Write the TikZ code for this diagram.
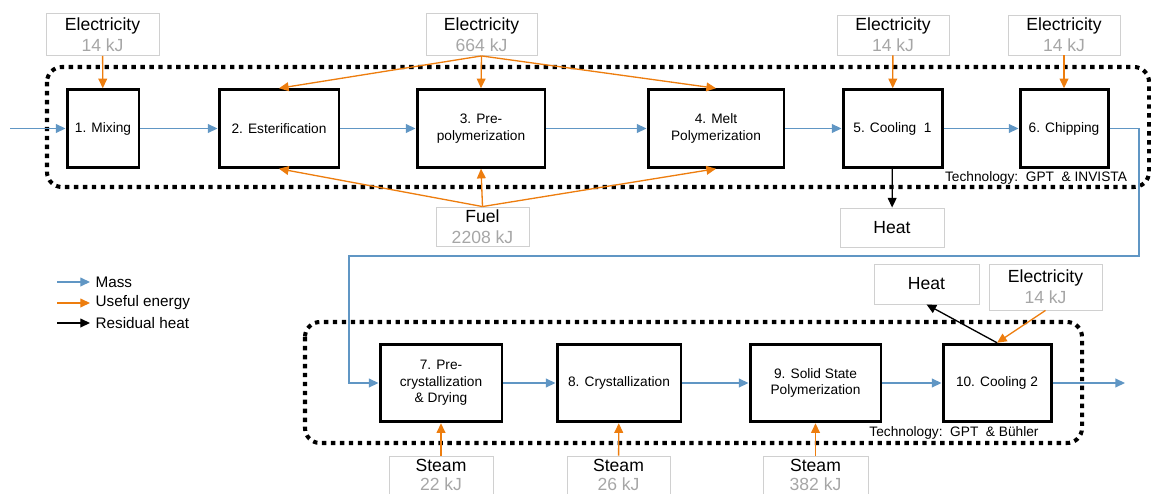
\documentclass[tikz,border=0pt]{standalone}
\usepackage{fontspec}
\setmainfont{Liberation Sans}
\usetikzlibrary{arrows.meta}
\definecolor{massblue}{RGB}{96,150,196}
\definecolor{energyorange}{RGB}{237,125,14}
\definecolor{kjgray}{RGB}{166,166,166}
\definecolor{framegray}{RGB}{208,208,208}
\newcommand{\supplytext}[2]{#1\\\textcolor{kjgray}{#2}}
\begin{document}
\begin{tikzpicture}[x=0.02cm, y=-0.02cm,
    proc/.style={draw, line width=1.7pt, minimum height=1.55cm, align=center,
      inner sep=1pt, font=\fontsize{7.8}{9.4}\selectfont},
    supply/.style={draw=framegray, line width=0.5pt, minimum height=0.84cm,
      align=center, inner sep=1pt, font=\fontsize{10}{12}\selectfont},
    zone/.style={line width=2.3pt, dash pattern=on 2.5pt off 2.6pt,
      rounded corners=0.3cm},
    mass/.style={draw=massblue, line width=0.75pt, -{Triangle[length=5.5pt,width=5pt]}},
    useful/.style={draw=energyorange, line width=0.75pt, -{Triangle[length=5.5pt,width=5pt]}},
    residual/.style={draw=black, line width=0.75pt, -{Triangle[length=5.5pt,width=5pt]}},
    techlabel/.style={inner sep=0pt, font=\fontsize{7.8}{9.4}\selectfont},
    legendlabel/.style={anchor=west, inner sep=3pt, font=\fontsize{8.7}{10}\selectfont}]
  \useasboundingbox (0,0) rectangle (1151,493);
  % technology zones
  \draw[zone] (47,67) rectangle (1149,187);
  \draw[zone] (305,322) rectangle (1082,443);
  \node[techlabel] (techTop) at (1036,178) {Technology:\ \ GPT \ \& INVISTA};
  \node[techlabel] (techBottom) at (954,433) {Technology:\ \ GPT \ \& Bühler};
  % process steps
  \draw
    (103,128.5) node[proc, minimum width=1.44cm] (b1){1. Mixing}
    (279,128.5) node[proc, minimum width=2.4cm] (b2){2. Esterification}
    (481,128.5) node[proc, minimum width=2.56cm] (b3){3. Pre-\\polymerization}
    (716,128.5) node[proc, minimum width=2.72cm] (b4){4. Melt\\Polymerization}
    (892.5,128.5) node[proc, minimum width=1.98cm] (b5){5. Cooling\ \ 1}
    (1064,128.5) node[proc, minimum width=1.76cm] (b6){6. Chipping}
    (441,383) node[proc, minimum width=2.44cm] (b7){7. Pre-\\crystallization\\\& Drying}
    (619,383) node[proc, minimum width=2.48cm] (b8){8. Crystallization}
    (815.5,383) node[proc, minimum width=2.62cm] (b9){9. Solid\ State\\Polymerization}
    (997,383) node[proc, minimum width=2.16cm] (b10){10. Cooling\ 2};
  % energy supplies and heat sinks
  \draw
    (102.5,34.5) node[supply, minimum width=2.26cm] (e1){\supplytext{Electricity}{14 kJ}}
    (481.5,34.5) node[supply, minimum width=2.22cm] (e2){\supplytext{Electricity}{664 kJ}}
    (893,35) node[supply, minimum width=2.24cm, minimum height=0.8cm] (e5){\supplytext{Electricity}{14 kJ}}
    (1064,35) node[supply, minimum width=2.24cm, minimum height=0.8cm] (e6){\supplytext{Electricity}{14 kJ}}
    (482.5,226.5) node[supply, minimum width=1.86cm, minimum height=0.78cm] (fuel){\supplytext{Fuel}{2208 kJ}}
    (892,227.5) node[supply, minimum width=2.08cm, minimum height=0.78cm] (heatA){Heat}
    (926.5,284) node[supply, minimum width=2.1cm, minimum height=0.8cm] (heatB){Heat}
    (1045.5,287) node[supply, minimum width=2.26cm, minimum height=0.92cm] (e10){\supplytext{Electricity}{14 kJ}}
    (441,475) node[supply, minimum width=2.08cm, minimum height=0.76cm, font=\fontsize{10}{11}\selectfont] (s7){\supplytext{Steam}{22 kJ}}
    (618.5,475) node[supply, minimum width=2.06cm, minimum height=0.76cm, font=\fontsize{10}{11}\selectfont] (s8){\supplytext{Steam}{26 kJ}}
    (815.5,475) node[supply, minimum width=2.1cm, minimum height=0.76cm, font=\fontsize{10}{11}\selectfont] (s9){\supplytext{Steam}{382 kJ}};
  % free ends of the mass flow
  \coordinate (feedIn) at (10,128.5);
  \coordinate (feedOut) at (1125,383);
  \coordinate (turnA) at (1139,256);
  \coordinate (turnB) at (349,256);
  \begin{scope}[mass]
    \draw (feedIn) to (b1.west);
    \draw (b1) to (b2);
    \draw (b2) to (b3);
    \draw (b3) to (b4);
    \draw (b4) to (b5);
    \draw (b5) to (b6);
    \draw (b6.east) -| (turnA) -- (turnB) |- (b7.west);
    \draw (b7) to (b8);
    \draw (b8) to (b9);
    \draw (b9) to (b10);
    \draw (b10.east) to (feedOut);
  \end{scope}
  \begin{scope}[useful]
    \draw (e1) to (b1);
    \draw (e2.south) to (b2.north);
    \draw (e2.south) to (b3.north);
    \draw (e2.south) to (b4.north);
    \draw (fuel.north) to (b2.south);
    \draw (fuel.north) to (b3.south);
    \draw (fuel.north) to (b4.south);
    \draw (e5) to (b5);
    \draw (e6) to (b6);
    \draw (e10.south) to (b10.north);
    \draw (s7) to (b7);
    \draw (s8) to (b8);
    \draw (s9) to (b9);
  \end{scope}
  \begin{scope}[residual]
    \draw (b5) to (heatA);
    \draw (b10.north) to (heatB.south);
  \end{scope}
  % legend
  \draw
    (90,282) node[legendlabel] (lgMass){Mass}
    (90,303) node[legendlabel] (lgUseful){Useful energy}
    (90,323) node[legendlabel] (lgResidual){Residual heat};
  \coordinate (lgMassStart) at (57,282);
  \coordinate (lgUsefulStart) at (57,303);
  \coordinate (lgResidualStart) at (57,323);
  \draw[mass] (lgMassStart) -- (lgMass.west);
  \draw[useful] (lgUsefulStart) -- (lgUseful.west);
  \draw[residual] (lgResidualStart) -- (lgResidual.west);
\end{tikzpicture}
\end{document}
